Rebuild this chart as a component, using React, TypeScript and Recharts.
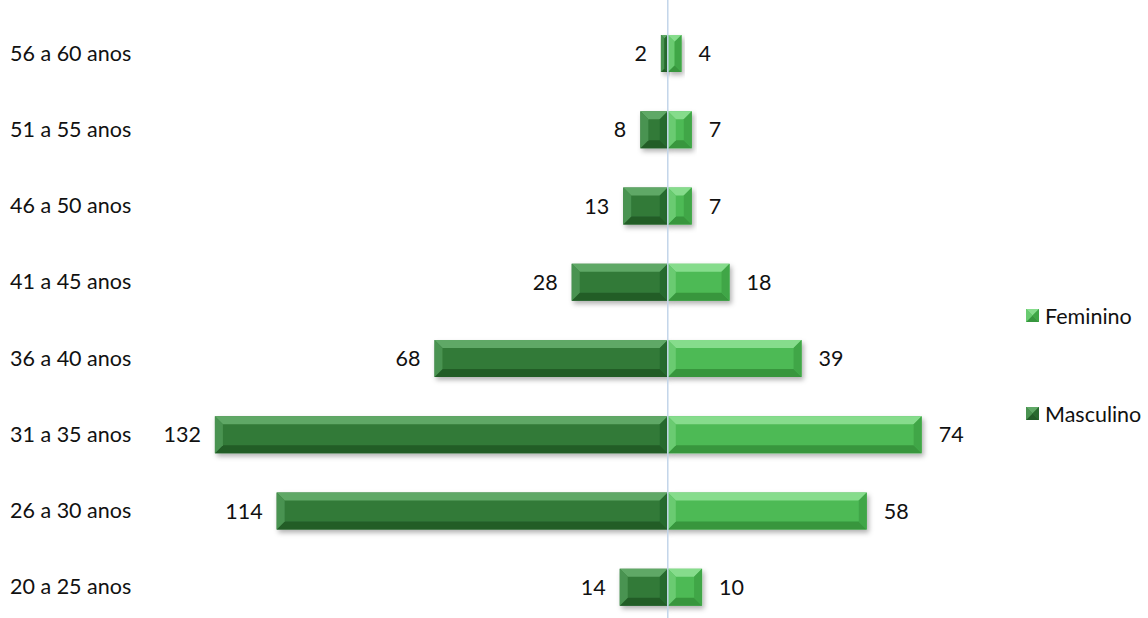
import React from 'react'
import { BarChart, Bar, XAxis, YAxis, ReferenceLine, LabelList } from 'recharts'

const ageGroups = ['56 a 60 anos', '51 a 55 anos', '46 a 50 anos', '41 a 45 anos', '36 a 40 anos', '31 a 35 anos', '26 a 30 anos', '20 a 25 anos']
const masculino = [2, 8, 13, 28, 68, 132, 114, 14]
const feminino = [4, 7, 7, 18, 39, 74, 58, 10]

const data = ageGroups.map((name, i) => ({
  name,
  Masculino: -masculino[i],
  Feminino: feminino[i],
}))

const FONT = 'Lato, "Open Sans", sans-serif'
const FS = 21.5

const palette = {
  Masculino: { main: '#327a39', top: '#5fa866', left: '#4a9351', right: '#286a2f', bottom: '#225d28' },
  Feminino: { main: '#4dba55', top: '#86dc8c', left: '#6acb71', right: '#40a647', bottom: '#37963e' },
}

type Pal = typeof palette.Masculino

function BevelRect({ x, y, w, h, c, shadow }: { x: number; y: number; w: number; h: number; c: Pal; shadow?: boolean }) {
  const b = Math.max(0, Math.min(8, w / 2, h / 2))
  return (
    <g filter={shadow ? 'url(#barShadow)' : undefined}>
      <rect x={x} y={y} width={w} height={h} fill={c.main} />
      <polygon points={`${x},${y} ${x + w},${y} ${x + w - b},${y + b} ${x + b},${y + b}`} fill={c.top} />
      <polygon points={`${x},${y + h} ${x + w},${y + h} ${x + w - b},${y + h - b} ${x + b},${y + h - b}`} fill={c.bottom} />
      <polygon points={`${x},${y} ${x + b},${y + b} ${x + b},${y + h - b} ${x},${y + h}`} fill={c.left} />
      <polygon points={`${x + w},${y} ${x + w - b},${y + b} ${x + w - b},${y + h - b} ${x + w},${y + h}`} fill={c.right} />
    </g>
  )
}

const makeShape = (c: Pal) => (props: any) => {
  const { x, y, width, height } = props
  const left = Math.min(x, x + width)
  const w = Math.abs(width)
  return <BevelRect x={left} y={y} w={w} h={height} c={c} shadow />
}

const leftLabel = (props: any) => {
  const { x, y, width, height, value } = props
  const left = Math.min(x, x + width)
  return (
    <text x={left - 14} y={y + height / 2} dy={7.5} textAnchor="end" fontFamily={FONT} fontSize={FS} fill="#111">
      {Math.abs(value)}
    </text>
  )
}

const rightLabel = (props: any) => {
  const { x, y, width, height, value } = props
  const right = Math.max(x, x + width)
  return (
    <text x={right + 17} y={y + height / 2} dy={7.5} textAnchor="start" fontFamily={FONT} fontSize={FS} fill="#111">
      {Math.abs(value)}
    </text>
  )
}

const AgeTick = (props: any) => {
  const { y, payload } = props
  return (
    <text x={10} y={y} dy={7.5} textAnchor="start" fontFamily={FONT} fontSize={FS} fill="#111">
      {payload.value}
    </text>
  )
}

const LegendBox = () => (
  <div style={{ position: 'absolute', left: 1026, top: 303, fontFamily: FONT, fontSize: FS, color: '#111', lineHeight: '26px' }}>
    {(['Feminino', 'Masculino'] as const).map((k, i) => (
      <div key={k} style={{ display: 'flex', alignItems: 'center', marginTop: i ? 72 : 0 }}>
        <svg width={14} height={14} style={{ marginRight: 5 }}>
          <BevelRect x={0} y={0} w={13} h={13} c={palette[k]} />
        </svg>
        <span>{k}</span>
      </div>
    ))}
  </div>
)

export default function App() {
  return (
    <div style={{ position: 'absolute', left: 0, top: 0, width: 1148, height: 618, overflow: 'hidden', background: '#fff' }}>
      <BarChart
        width={1148}
        height={640}
        data={data}
        layout="vertical"
        stackOffset="sign"
        margin={{ top: 0, right: 168, bottom: 0, left: 0 }}
      >
        <defs>
          <filter id="barShadow" x="-10%" y="-30%" width="130%" height="170%">
            <feDropShadow dx={2} dy={3} stdDeviation={2.5} floodColor="#000" floodOpacity={0.3} />
          </filter>
        </defs>
        <XAxis type="number" domain={[-148, 91]} hide allowDataOverflow />
        <YAxis
          type="category"
          dataKey="name"
          width={160}
          axisLine={false}
          tickLine={false}
          tick={<AgeTick />}
          padding={{ top: 15, bottom: 15 }}
        />
        <Bar dataKey="Masculino" stackId="a" barSize={37} shape={makeShape(palette.Masculino)} isAnimationActive={false}>
          <LabelList dataKey="Masculino" content={leftLabel} />
        </Bar>
        <Bar dataKey="Feminino" stackId="a" barSize={37} shape={makeShape(palette.Feminino)} isAnimationActive={false}>
          <LabelList dataKey="Feminino" content={rightLabel} />
        </Bar>
        <ReferenceLine x={0} stroke="#c3d5ea" strokeWidth={1.5} />
      </BarChart>
      <LegendBox />
    </div>
  )
}
